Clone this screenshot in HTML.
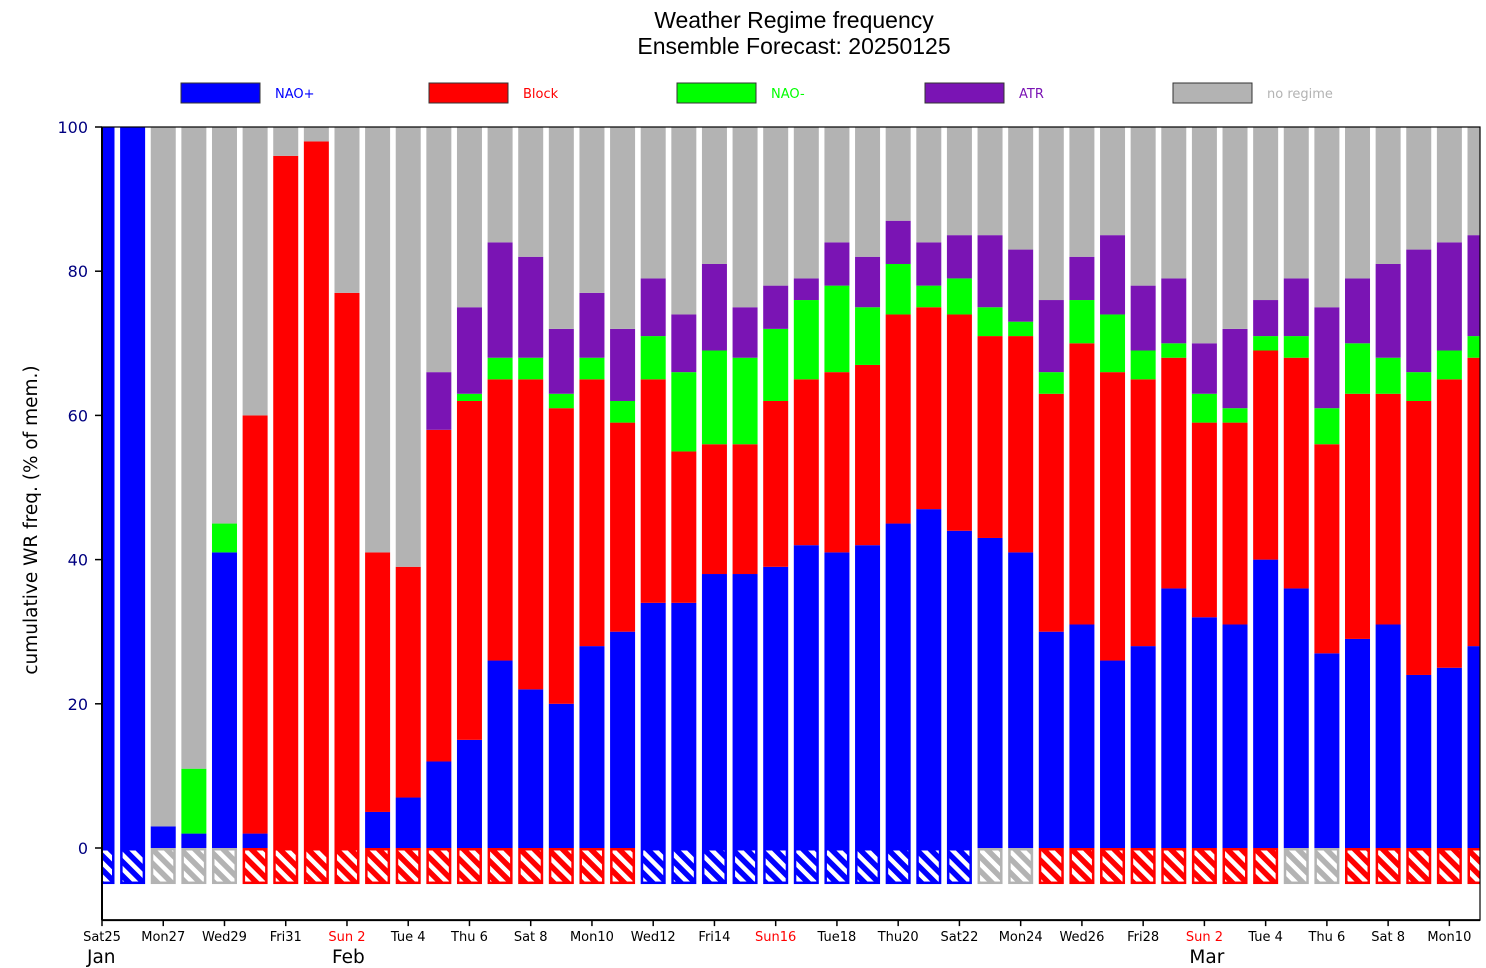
<!DOCTYPE html>
<html><head><meta charset="utf-8"><style>
body{margin:0;background:#fff;}
svg{display:block;font-family:"DejaVu Sans","Liberation Sans",sans-serif;}
</style></head><body>
<svg id="chart" width="1486" height="968" viewBox="0 0 1486 968" xmlns="http://www.w3.org/2000/svg">
<defs>
<pattern id="hatch" patternUnits="userSpaceOnUse" width="10" height="10" patternTransform="rotate(-45)">
<rect width="10" height="10" fill="none"/><rect x="0" y="0" width="4.5" height="10" fill="#fff"/>
</pattern>
</defs>
<text x="794" y="28" font-size="23" text-anchor="middle" font-family="Liberation Sans, sans-serif">Weather Regime frequency</text>
<text x="794" y="54" font-size="23" text-anchor="middle" font-family="Liberation Sans, sans-serif">Ensemble Forecast: 20250125</text>
<g id="legend"></g>
<g id="bars"></g>
<g id="axes"></g>
<text transform="translate(37,520) rotate(-90)" font-size="18.5" text-anchor="middle">cumulative WR freq. (% of mem.)</text>
</svg>
<script>
const naoPlus = [100,100,3,2,41,2,0,0,0,5,7,12,15,26,22,20,28,30,34,34,38,38,39,42,41,42,45,47,44,43,41,30,31,26,28,36,32,31,40,36,27,29,31,24,25,28];
const block   = [0,0,0,0,0,58,96,98,77,36,32,46,47,39,43,41,37,29,31,21,18,18,23,23,25,25,29,28,30,28,30,33,39,40,37,32,27,28,29,32,29,34,32,38,40,40];
const naoMinus= [0,0,0,9,4,0,0,0,0,0,0,0,1,3,3,2,3,3,6,11,13,12,10,11,12,8,7,3,5,4,2,3,6,8,4,2,4,2,2,3,5,7,5,4,4,3];
const atr     = [0,0,0,0,0,0,0,0,0,0,0,8,12,16,14,9,9,10,8,8,12,7,6,3,6,7,6,6,6,10,10,10,6,11,9,9,7,11,5,8,14,9,13,17,15,14];
const markerRegime = ['b','b','g','g','g','r','r','r','r','r','r','r','r','r','r','r','r','r','b','b','b','b','b','b','b','b','b','b','b','g','g','r','r','r','r','r','r','r','r','g','g','r','r','r','r','r'];
const dayLabels = ['Sat25','Mon27','Wed29','Fri31','Sun 2','Tue 4','Thu 6','Sat 8','Mon10','Wed12','Fri14','Sun16','Tue18','Thu20','Sat22','Mon24','Wed26','Fri28','Sun 2','Tue 4','Thu 6','Sat 8','Mon10'];
const sundayLabels = ['Sun 2','Sun16'];
const monthLabels = [['Jan',0],['Feb',8],['Mar',36]];
const yTicks = [0,20,40,60,80,100];

const NS='http://www.w3.org/2000/svg';
const X0=102,X1=1480,Y0=848,Y100=127;
const nDays=45;
const xs=i=>X0+(X1-X0)*i/nDays;
const ys=v=>Y0+(Y100-Y0)*v/100;
const colors={b:'#0000ff',r:'#ff0000',g:'#b3b3b3'};
function mk(tag,attrs,parent){const e=document.createElementNS(NS,tag);for(const k in attrs)e.setAttribute(k,attrs[k]);parent.appendChild(e);return e;}
const svg=document.getElementById('chart');
const clip=mk('clipPath',{id:'pc'},svg.querySelector('defs'));
mk('rect',{x:X0,y:100,width:X1-X0,height:830},clip);
const bars=document.getElementById('bars');
bars.setAttribute('clip-path','url(#pc)');
const bw=25;
for(let i=0;i<naoPlus.length;i++){
  const cx=xs(i);
  let base=0;
  const segs=[[naoPlus[i],'#0000ff','nao-plus'],[block[i],'#ff0000','block'],[naoMinus[i],'#00ff00','nao-minus'],[atr[i],'#7a14b4','atr'],[100-naoPlus[i]-block[i]-naoMinus[i]-atr[i],'#b3b3b3','no-regime']];
  for(const [v,c,n] of segs){
    if(v<=0)continue;
    const r=mk('rect',{x:cx-bw/2,y:ys(base+v),width:bw,height:ys(base)-ys(base+v),fill:c},bars);
    
    
    base+=v;
  }
  const mc=colors[markerRegime[i]];
  const m=mk('rect',{x:cx-bw/2+1,y:ys(0)+1,width:bw-2,height:ys(-5)-ys(0)-2,fill:mc,stroke:mc,'stroke-width':2},bars);
  
  
  mk('rect',{x:cx-bw/2+2.5,y:ys(0)+2.5,width:bw-5,height:ys(-5)-ys(0)-5,fill:'url(#hatch)'},bars);
}
const axes=document.getElementById('axes');
mk('rect',{x:X0,y:Y100,width:X1-X0,height:ys(-10)-Y100,fill:'none',stroke:'#000','stroke-width':1.2},axes);
mk('line',{x1:X0,y1:ys(-10),x2:X1,y2:ys(-10),stroke:'#000','stroke-width':2},axes);
mk('line',{x1:X0,y1:Y100,x2:X0,y2:ys(-10),stroke:'#000','stroke-width':2},axes);
for(const t of yTicks){
  mk('line',{x1:X0-7,y1:ys(t),x2:X0,y2:ys(t),stroke:'#000','stroke-width':1.5},axes);
  const tx=mk('text',{x:X0-14,y:ys(t)+6,'font-size':16,'text-anchor':'end',fill:'#000080'},axes);
  tx.textContent=t;
  
  
}
dayLabels.forEach((l,k)=>{
  const x=xs(k*2);
  mk('line',{x1:x,y1:ys(-10),x2:x,y2:ys(-10)+6,stroke:'#000','stroke-width':1.5},axes);
  const tx=mk('text',{x:x,y:941,'font-size':13,'text-anchor':'middle',fill:sundayLabels.includes(l)?'#ff0000':'#000'},axes);
  tx.textContent=l;
  
  
});
monthLabels.forEach(([m,d])=>{
  const tx=mk('text',{x:xs(d)-15,y:963,'font-size':18.5,fill:'#000'},axes);
  tx.textContent=m;
  
  
});
const legend=document.getElementById('legend');
[['NAO+','#0000ff'],['Block','#ff0000'],['NAO-','#00ff00'],['ATR','#7a14b4'],['no regime','#b3b3b3']].forEach(([n,c],k)=>{
  const x=181+k*248;
  const r=mk('rect',{x:x,y:83,width:79,height:20,fill:c,stroke:'#333','stroke-width':1},legend);
  
  
  const t=mk('text',{x:x+94,y:98,'font-size':13,fill:c},legend);
  t.textContent=n;
  
  
});
</script>
</body></html>
